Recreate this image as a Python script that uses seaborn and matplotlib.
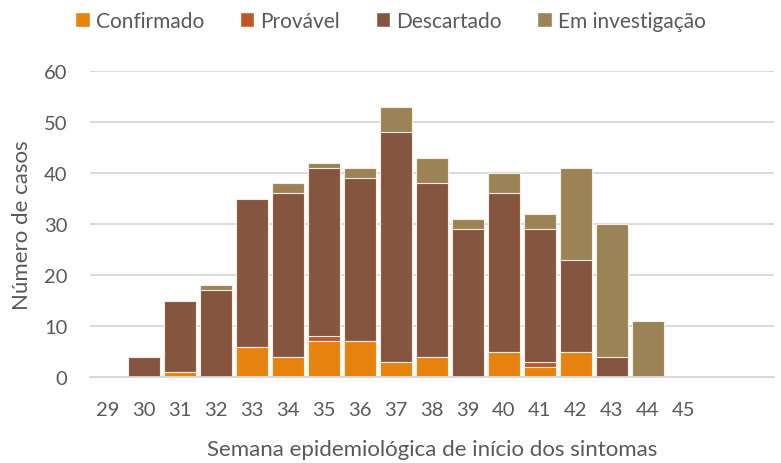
import pandas as pd
import numpy as np
import seaborn as sns
import matplotlib.pyplot as plt
from matplotlib.patches import Patch

sns.set_style("white")
plt.rcParams['font.family'] = ['Lato', 'DejaVu Sans']

weeks = [29, 30, 31, 32, 33, 34, 35, 36, 37, 38, 39, 40, 41, 42, 43, 44, 45, 46, 47]
tick_labels = [str(w) for w in weeks[:17]] + ["", ""]
confirmado = [0, 0, 1, 0, 6, 4, 7, 7, 3, 4, 0, 5, 2, 5, 0, 0, 0, 0, 0]
provavel = [0, 0, 0, 0, 0, 0, 1, 0, 0, 0, 0, 0, 1, 0, 0, 0, 0, 0, 0]
descartado = [0, 4, 14, 17, 29, 32, 33, 32, 45, 34, 29, 31, 26, 18, 4, 0, 0, 0, 0]
investigacao = [0, 0, 0, 1, 0, 2, 1, 2, 5, 5, 2, 4, 3, 18, 26, 11, 0, 0, 0]

series = ["Confirmado", "Provável", "Descartado", "Em investigação"]
colors = ["#E6830F", "#C0582A", "#865540", "#9C8355"]

df = pd.DataFrame({"semana": [str(w) for w in weeks],
                   "Confirmado": confirmado, "Provável": provavel,
                   "Descartado": descartado, "Em investigação": investigacao})
cum = df[series].cumsum(axis=1)

fig, ax = plt.subplots(figsize=(7.81, 4.64), dpi=100)
fig.subplots_adjust(left=0.115, right=0.991, bottom=0.185, top=0.845)

# draw cumulative totals from the top layer down so they stack visually
for s, c in reversed(list(zip(series, colors))):
    sns.barplot(x=df["semana"], y=cum[s], color=c, width=0.9, ax=ax,
                edgecolor="#F2EEE8", linewidth=0.8, saturation=1)

ax.set_ylim(0, 60)
ax.set_yticks(range(0, 61, 10))
ax.yaxis.grid(True, color="#D9D9D9", linewidth=1.3)
ax.set_axisbelow(True)
for sp in ["left", "right", "top"]:
    ax.spines[sp].set_visible(False)
ax.spines["bottom"].set_color("#D9D9D9")
ax.spines["bottom"].set_linewidth(1.3)
ax.set_xticks(range(len(weeks)))
ax.set_xticklabels(tick_labels)
ax.tick_params(axis="both", length=0, labelsize=14.5, colors="#595959")
ax.tick_params(axis="x", pad=17)
ax.tick_params(axis="y", pad=16)
ax.set_xlabel("Semana epidemiológica de início dos sintomas", fontsize=16, color="#595959", labelpad=15)
ax.set_ylabel("Número de casos", fontsize=16, color="#595959", labelpad=9)

handles = [Patch(facecolor=c, label=s) for s, c in zip(series, colors)]
fig.legend(handles=handles, loc="upper center", bbox_to_anchor=(0.5, 1.015), ncol=4, frameon=False,
           fontsize=15, labelcolor="#595959", handlelength=0.7, handleheight=0.7,
           handletextpad=0.3, columnspacing=1.7)

plt.savefig("out.png", dpi=100)
